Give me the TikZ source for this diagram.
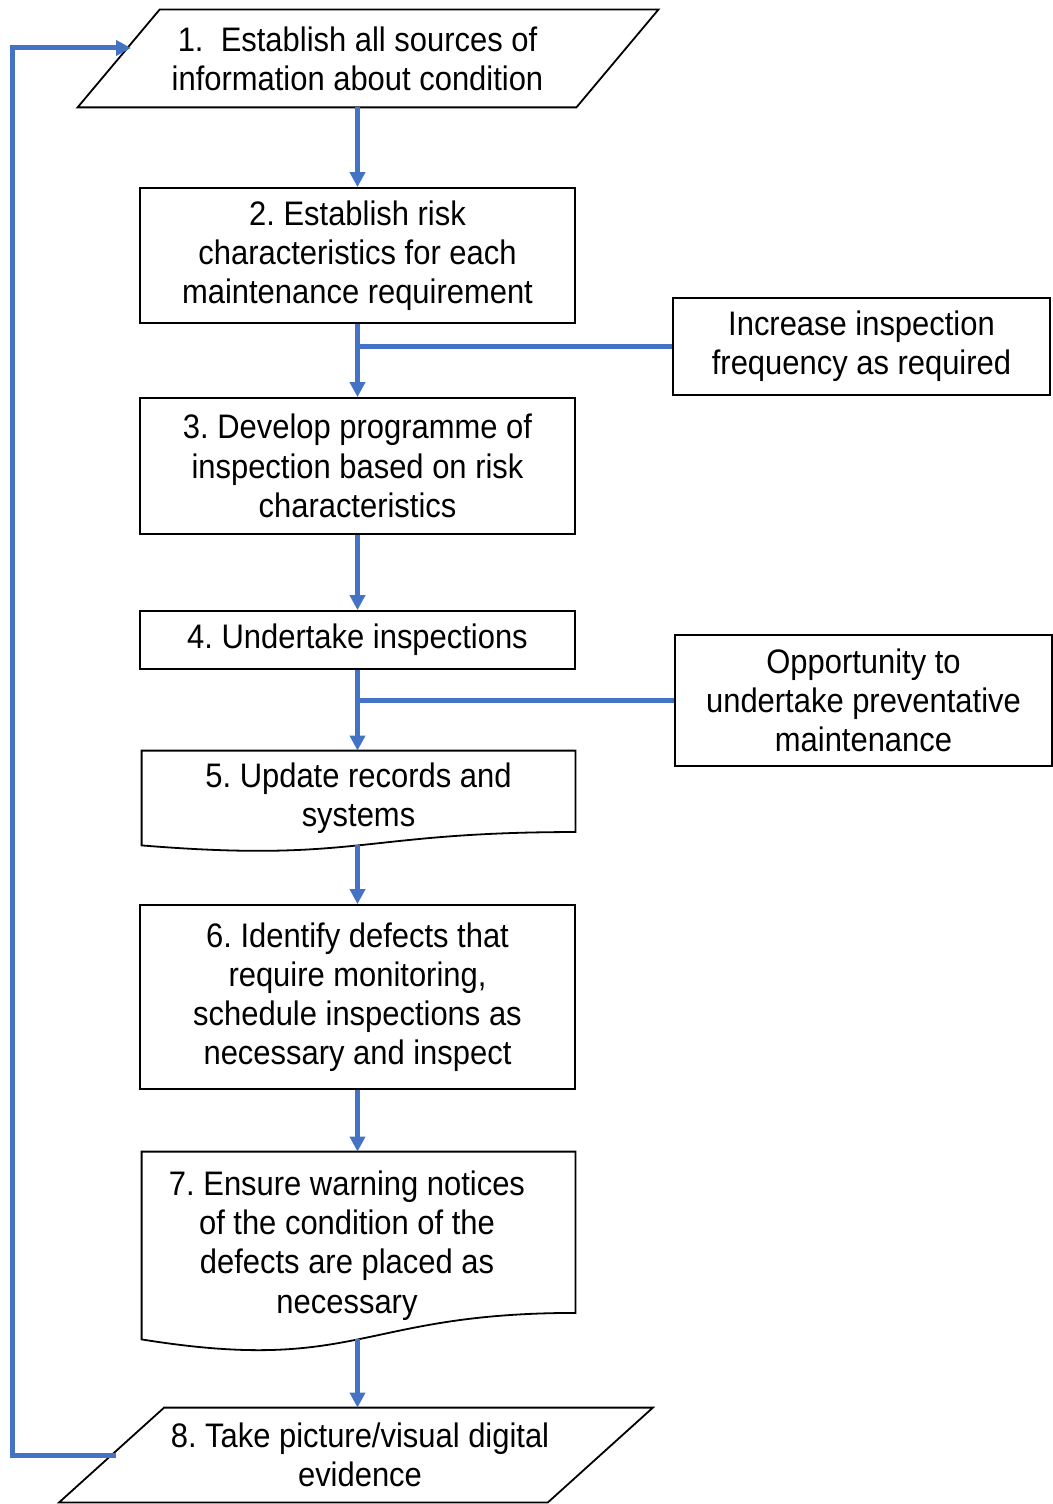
\documentclass[tikz,border=0pt]{standalone}
\usepackage{fontspec}
\setmainfont{Liberation Sans}[FakeStretch=0.91]
\usetikzlibrary{calc,shapes,arrows.meta}
\definecolor{flowblue}{RGB}{68,114,196}
\frenchspacing

% outline of an input box: name, slant, shift
\newcommand{\slantbox}[3]{%
  \draw [boxline] ([xshift=#3+#2]#1.north west) -- ([xshift=#3+#2]#1.north east) -- ([xshift=#3-#2]#1.south east) -- ([xshift=#3-#2]#1.south west) -- cycle;}
% outline of a document box: name, shift
\newcommand{\docbox}[2]{%
  \draw [boxline] ([xshift=#2]#1.north west) -- ([xshift=#2]#1.north east) -- ([xshift=#2]$(#1.north east)!0.859!(#1.south east)$) .. controls ([xshift=#2]$(#1.north)!0.859!(#1.south)$) and ([xshift=#2]$(#1.north)!1.186!(#1.south)$) .. ([xshift=#2]#1.south west) -- cycle;}

\begin{document}
\begin{tikzpicture}[x=0.5pt,y=-0.5pt,
    boxline/.style={draw=black, line width=0.9pt},
    stepbox/.style={boxline, fill=white, align=center, minimum width=217.5pt, inner sep=2pt},
    textbox/.style={align=center, minimum width=#1, inner sep=2pt},
    sidebox/.style={boxline, align=center, minimum width=188.5pt, inner sep=2pt},
    flow/.style={draw=flowblue, line width=2.5pt, -{Triangle[width=7.5pt,length=7.5pt]}},
    feed/.style={draw=flowblue, line width=2.5pt}]
  \useasboundingbox (0,0) rectangle (1053,1504);
  \fontsize{17pt}{19.6pt}\selectfont

  \node [textbox=249pt, minimum height=48.5pt] (b1) at (357.5,58.5) {1.\ \ Establish all sources of\\information about condition};
  \node [stepbox, minimum height=67.5pt] (b2) at (357.5,255.5) {2. Establish risk\\characteristics for each\\maintenance requirement};
  \node [stepbox, minimum height=68pt] (b3) at (357.5,466) {3. Develop programme of\\inspection based on risk\\characteristics};
  \node [stepbox, minimum height=29pt] (b4) at (357.5,640) {4. Undertake inspections};
  \node [textbox=216.5pt, minimum height=47pt] (b5) at (358.5,798) {5. Update records and\\systems};
  \node [stepbox, minimum height=92pt] (b6) at (357.5,997) {6. Identify defects that\\require monitoring,\\schedule inspections as\\necessary and inspect};
  \node [textbox=216.5pt, minimum height=93.5pt] (b7) at (347,1245.5) {7. Ensure warning notices\\of the condition of the\\defects are placed as\\necessary};
  \node [textbox=244pt, minimum height=47pt] (b8) at (360,1455) {8. Take picture/visual digital\\evidence};

  \node [sidebox, minimum height=48.5pt] (sA) at (861.5,346.5) {Increase inspection\\frequency as required};
  \node [sidebox, minimum height=65.5pt] (sB) at (863.5,700.5) {Opportunity to\\undertake preventative\\maintenance};

  \slantbox{b1}{20.5pt}{5.25pt}
  \slantbox{b8}{26.25pt}{-2pt}
  \docbox{b5}{0pt}
  \docbox{b7}{5.75pt}

  \coordinate (back) at (12,48);
  \coordinate (b1in) at (131,48);

  \draw [flow] (b1) -- (b2);
  \draw [flow] (b2) -- (b3);
  \draw [feed] (sA) -- (sA -| b2);
  \draw [flow] (b3) -- (b4);
  \draw [flow] (b4) -- (b4 |- b5.north);
  \draw [feed] (sB) -- (sB -| b4);
  \draw [flow] (b5.south -| b6) -- (b6);
  \draw [flow] (b6.south) -- (b6.south |- b7.north);
  \draw [flow] (b7.south -| b6) -- (b6 |- b8.north);
  \draw [flow] (b8.west) -| (back) -- (b1in);
\end{tikzpicture}
\end{document}
